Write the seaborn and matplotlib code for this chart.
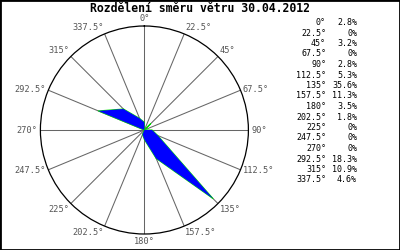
import numpy as np
import pandas as pd
import matplotlib
matplotlib.use("Agg")
import matplotlib.pyplot as plt
import matplotlib.patches as mpatches
import seaborn as sns

directions = [0, 22.5, 45, 67.5, 90, 112.5, 135, 157.5, 180, 202.5, 225, 247.5, 270, 292.5, 315, 337.5]
dir_labels = ["0°", "22.5°", "45°", "67.5°", "90°", "112.5°", "135°", "157.5°", "180°",
              "202.5°", "225°", "247.5°", "270°", "292.5°", "315°", "337.5°"]
percent = [2.8, 0, 3.2, 0, 2.8, 5.3, 35.6, 11.3, 3.5, 1.8, 0, 0, 0, 18.3, 10.9, 4.6]
pct_labels = ["2.8%", "0%", "3.2%", "0%", "2.8%", "5.3%", "35.6%", "11.3%", "3.5%",
              "1.8%", "0%", "0%", "0%", "18.3%", "10.9%", "4.6%"]
title = "Rozdělení směru větru 30.04.2012"

sns.set_style("white")
plt.rcParams['font.family'] = ['DejaVu Sans Mono', 'DejaVu Sans']

fig = plt.figure(figsize=(4, 2.5), dpi=100)
fig.patch.set_facecolor("white")
ax = fig.add_axes([0.101, 0.064, 0.52, 0.832], projection="polar")
ax.set_theta_zero_location("N")
ax.set_theta_direction(-1)
rmax = 38.2
ax.set_ylim(0, rmax)

theta = np.deg2rad(np.array(directions + [directions[0]]))
vals = np.array(percent + [percent[0]])
df = pd.DataFrame({"theta": theta, "val": vals})

ax.fill(df["theta"], df["val"], color="#0000ff", zorder=3, lw=0)
sns.lineplot(data=df, x="theta", y="val", sort=False, estimator=None, ax=ax,
             color="#00dd00", lw=0.8, zorder=2)
ax.set_xlabel("")
ax.set_ylabel("")

ax.set_xticks(np.deg2rad(directions))
ax.set_xticklabels([])
ax.set_yticks([])
ax.grid(True, axis="x", color="#666666", lw=0.75, ls="-")
ax.spines["polar"].set_color("black")
ax.spines["polar"].set_linewidth(0.9)
ax.set_facecolor("white")

for d, lab in zip(directions, dir_labels):
    s, c = np.sin(np.deg2rad(d)), np.cos(np.deg2rad(d))
    ha = "left" if s > 0.1 else ("right" if s < -0.1 else "center")
    va = "bottom" if c > 0.5 else ("top" if c < -0.5 else "center")
    ax.text(np.deg2rad(d), rmax * 1.025, lab, ha=ha, va=va, fontsize=6.2,
            color="#555555", clip_on=False)

fig.text(0.5, 0.965, title, ha="center", va="center", fontsize=8.3,
         fontweight="bold", color="black")

y0 = 1 - 22.5 / 250
dy = 10.5 / 250
for i, (dl, pl) in enumerate(zip(dir_labels, pct_labels)):
    y = y0 - i * dy
    fig.text(326 / 400, y, dl, ha="right", va="center", fontsize=6.0, color="black")
    fig.text(357 / 400, y, pl, ha="right", va="center", fontsize=6.0, color="black")

fig.add_artist(mpatches.Rectangle((0, 0), 1, 1, transform=fig.transFigure,
                                  fill=False, edgecolor="black", lw=2))

fig.savefig("out.png", dpi=100)
